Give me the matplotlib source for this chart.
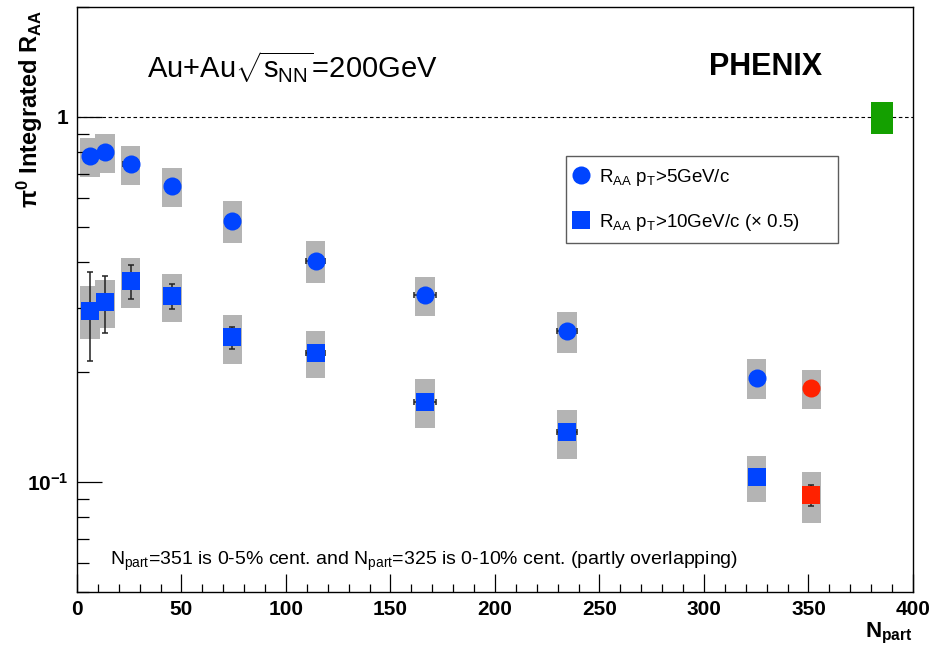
import numpy as np
import matplotlib
matplotlib.use("Agg")
import matplotlib.pyplot as plt
from matplotlib.ticker import MultipleLocator, FixedLocator, FixedFormatter, LogLocator, NullFormatter

plt.rcParams['font.family'] = ['Liberation Sans', 'DejaVu Sans']
plt.rcParams['mathtext.fontset'] = 'custom'
plt.rcParams['mathtext.rm'] = 'Liberation Sans'
plt.rcParams['mathtext.it'] = 'Liberation Sans:italic'
plt.rcParams['mathtext.bf'] = 'Liberation Sans:bold'
plt.rcParams['mathtext.sf'] = 'Liberation Sans'

# centrality classes (Npart and its uncertainty)
npart = [6.3, 13.4, 25.7, 45.5, 74.4, 114.2, 166.6, 234.6, 325.2]
npart_err = [1.2, 3.0, 3.8, 3.3, 3.8, 4.4, 5.4, 4.7, 3.3]

# pi0 R_AA integrated above 5 GeV/c
raa5 = [0.780, 0.802, 0.743, 0.645, 0.520, 0.404, 0.325, 0.259, 0.193]
raa5_stat = [0.030, 0.030, 0.025, 0.020, 0.015, 0.010, 0.008, 0.006, 0.005]
raa5_sys = [0.096, 0.098, 0.090, 0.080, 0.067, 0.052, 0.040, 0.033, 0.024]

# pi0 R_AA integrated above 10 GeV/c, scaled by 0.5
raa10 = [0.295, 0.311, 0.355, 0.323, 0.249, 0.226, 0.166, 0.137, 0.103]
raa10_stat = [0.081, 0.055, 0.037, 0.025, 0.017, 0.010, 0.008, 0.007, 0.005]
raa10_sys = [0.049, 0.047, 0.055, 0.048, 0.038, 0.033, 0.025, 0.021, 0.015]

# most central 0-5% bin
npart_c = [351.4]
npart_c_err = [2.9]
raa5_c = [0.181]
raa5_c_stat = [0.004]
raa5_c_sys = [0.022]
raa10_c = [0.092]
raa10_c_stat = [0.006]
raa10_c_sys = [0.0145]

# overall normalisation uncertainty at R_AA = 1
norm_x = [385]
norm_val = [1.0]
norm_err = [0.10]

ytick_vals = [0.1, 1]
ytick_labels = [r'$\mathbf{10^{-1}}$', '1']

blue = '#0044ff'
red = '#ff2200'
gray = '#b4b4b4'
box_w = 9.4

fig = plt.figure(figsize=(9.34, 6.51), dpi=100)
ax = fig.add_axes([0.0824, 0.0906, 0.8951, 0.8986])
ax.set_yscale('log')
ax.set_xlim(0, 400)
ax.set_ylim(0.05, 2.0)


def sys_boxes(x, y, s, color=gray, w=box_w):
    y = np.asarray(y)
    s = np.asarray(s)
    ax.bar(x, 2 * s, bottom=y - s, width=w, color=color, linewidth=0, zorder=1)


sys_boxes(npart, raa5, raa5_sys)
sys_boxes(npart, raa10, raa10_sys)
sys_boxes(npart_c, raa5_c, raa5_c_sys)
sys_boxes(npart_c, raa10_c, raa10_c_sys)
sys_boxes(norm_x, norm_val, norm_err, color='#14a000', w=10.5)

ax.axhline(1.0, color='black', lw=0.8, ls=(0, (3.2, 2.4)), zorder=0.5)

ekw = dict(fmt='none', ecolor='#222222', elinewidth=1.1, capsize=2.5, capthick=1.1, zorder=2)
ax.errorbar(npart, raa5, yerr=raa5_stat, xerr=npart_err, **ekw)
ax.errorbar(npart, raa10, yerr=raa10_stat, xerr=npart_err, **ekw)
ax.errorbar(npart_c, raa5_c, yerr=raa5_c_stat, xerr=npart_c_err, **ekw)
ax.errorbar(npart_c, raa10_c, yerr=raa10_c_stat, xerr=npart_c_err, **ekw)

ax.plot(npart, raa5, 'o', color=blue, ms=13, mew=0, ls='none', zorder=3,
        label=r'R$_{\mathrm{AA}}$ p$_{\mathrm{T}}$>5GeV/c')
ax.plot(npart, raa10, 's', color=blue, ms=12.5, mew=0, ls='none', zorder=3,
        label=r'R$_{\mathrm{AA}}$ p$_{\mathrm{T}}$>10GeV/c ($\times$ 0.5)')
ax.plot(npart_c, raa5_c, 'o', color=red, ms=13, mew=0, ls='none', zorder=3)
ax.plot(npart_c, raa10_c, 's', color=red, ms=12.5, mew=0, ls='none', zorder=3)

leg = ax.legend(loc='upper left', bbox_to_anchor=(0.585, 0.595, 0.325, 0.15), mode='expand',
                borderaxespad=0, fontsize=13.5, frameon=True, fancybox=False,
                borderpad=0.55, labelspacing=1.3, handlelength=0.45, handletextpad=0.75,
                numpoints=1)
leg.get_frame().set_edgecolor('#333333')
leg.get_frame().set_linewidth(1.0)

# axis styling
ax.xaxis.set_major_locator(MultipleLocator(50))
ax.xaxis.set_minor_locator(MultipleLocator(10))
ax.yaxis.set_major_locator(FixedLocator(ytick_vals))
ax.yaxis.set_major_formatter(FixedFormatter(ytick_labels))
ax.yaxis.set_minor_locator(LogLocator(base=10, subs=np.arange(2, 10)))
ax.yaxis.set_minor_formatter(NullFormatter())
ax.tick_params(axis='x', which='major', direction='in', length=13, width=0.9, pad=6, labelsize=15)
ax.tick_params(axis='x', which='minor', direction='in', length=6, width=0.9)
ax.tick_params(axis='y', which='major', direction='in', length=18, width=0.9, pad=6, labelsize=15)
ax.tick_params(axis='y', which='minor', direction='in', length=8.5, width=0.9)
for lab in ax.get_xticklabels() + ax.get_yticklabels():
    lab.set_fontweight('bold')
for sp in ax.spines.values():
    sp.set_linewidth(1.0)

ax.set_xlabel(r'N$_{\mathbf{part}}$', fontsize=16, fontweight='bold', loc='right', labelpad=1)
fig.text(0.032, 0.985, r'$\mathbf{\pi^{0}}$ Integrated R$_{\mathbf{AA}}$', rotation=90,
         ha='center', va='top', fontsize=17, fontweight='bold')

ax.text(0.258, 0.898, r'Au+Au$\sqrt{\mathrm{s}_{\mathrm{NN}}}$=200GeV', transform=ax.transAxes,
        ha='center', va='center', fontsize=21)
ax.text(0.824, 0.898, 'PHENIX', transform=ax.transAxes, ha='center', va='center',
        fontsize=22, fontweight='bold')
ax.text(0.039, 0.052,
        r'N$_{\mathrm{part}}$=351 is 0-5% cent. and N$_{\mathrm{part}}$=325 is 0-10% cent. (partly overlapping)',
        transform=ax.transAxes, ha='left', va='center', fontsize=14)

fig.savefig('out.png', dpi=100, facecolor='white')
